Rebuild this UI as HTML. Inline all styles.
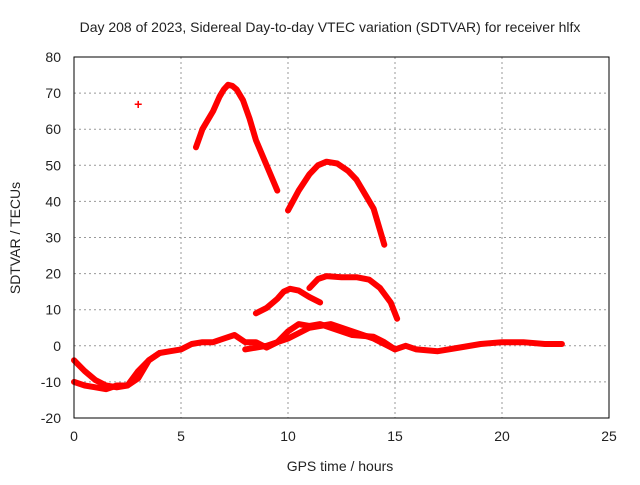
<!DOCTYPE html>
<html><head><meta charset="utf-8"><style>
body{margin:0;background:#fff;font-family:"Liberation Sans",sans-serif}
svg text{font-family:"Liberation Sans",sans-serif;font-size:14px;fill:#222}
</style></head><body>
<svg id="c" width="640" height="480">
<text x="330" y="32" text-anchor="middle">Day 208 of 2023, Sidereal Day-to-day VTEC variation (SDTVAR) for receiver hlfx</text>
<text x="340" y="471" text-anchor="middle">GPS time / hours</text>
<text transform="translate(20,238) rotate(-90)" text-anchor="middle">SDTVAR / TECUs</text>
<g id="grid"></g><g id="marks"></g>
<rect x="74" y="57" width="535" height="361" fill="none" stroke="#000"/>
</svg>
<script>
const xTicks=[0,5,10,15,20,25];
const yTicks=[-20,-10,0,10,20,30,40,50,60,70,80];
const arcAx=[5.7,6,6.5,6.8,7,7.2,7.4,7.6,7.9,8.2,8.5,9,9.5];
const arcAy=[55,60,65,69,71,72.3,72,71,68,63,57,50,43];
const arcBx=[10,10.5,11,11.4,11.8,12.3,12.8,13.2,13.6,14,14.3,14.5];
const arcBy=[37.5,43,47.5,50,51,50.5,48.5,46,42,38,32,28];
const arcCx=[8.5,9,9.5,9.8,10.1,10.5,11,11.5];
const arcCy=[9,10.5,13,15,15.8,15.3,13.5,12];
const arcDx=[11,11.4,11.8,12.5,13.2,13.8,14.3,14.8,15.1];
const arcDy=[16,18.5,19.3,19,19,18.3,16,12,7.5];
const arcEx=[0,0.5,1,1.5,2,2.5,3,3.5,4,4.5,5,5.5,6,6.5,7,7.5,8,8.5,9,9.5,10,10.5,11,11.5,12,12.5,13,14,14.5,15,15.5,16,17,18,19,20,21,22,22.8];
const arcEy=[-4,-7,-9.5,-11,-11.5,-11,-9,-4,-2,-1.5,-1,0.5,1,1,2,3,1,1,-0.5,1,4,6,5.5,6,5,4,3,2.5,1,-1,0,-1,-1.5,-0.5,0.5,1,1,0.5,0.5];
const arcFx=[0,0.5,1,1.5,2,2.5,3,3.5,4];
const arcFy=[-10,-11,-11.5,-12,-11,-11,-7,-4,-2];
const arcGx=[8,9,10,11,12,13,14,15];
const arcGy=[-1,0,2,5,6,4,2,-1];
const ptX=[3.0], ptY=[67];
const X=v=>74+v*535/25, Y=v=>418-(v+20)*361/100;
const NS="http://www.w3.org/2000/svg";
const svg=document.getElementById('c'),g=document.getElementById('grid'),m=document.getElementById('marks');
function mk(t,a,p){const e=document.createElementNS(NS,t);for(const k in a)e.setAttribute(k,a[k]);p.appendChild(e);return e;}
xTicks.forEach(t=>{
 if(t>0&&t<25){const l=mk('line',{x1:X(t),x2:X(t),y1:57,y2:418,stroke:'#999','stroke-dasharray':'2,3'},g);
 
 }
 const s=mk('text',{x:X(t),y:441,'text-anchor':'middle'},svg);s.textContent=t;
 
 
});
yTicks.forEach(t=>{
 if(t>-20&&t<80){const l=mk('line',{x1:74,x2:609,y1:Y(t),y2:Y(t),stroke:'#999','stroke-dasharray':'2,3'},g);
 
 }
 const s=mk('text',{x:61,y:Y(t)+5,'text-anchor':'end'},svg);s.textContent=t;
 
 
});
[[arcAx,arcAy],[arcBx,arcBy],[arcCx,arcCy],[arcDx,arcDy],[arcEx,arcEy],[arcFx,arcFy],[arcGx,arcGy]].forEach(([xs,ys])=>{
 const p=mk('polyline',{points:xs.map((x,i)=>X(x)+','+Y(ys[i])).join(' '),fill:'none',stroke:'#f00','stroke-width':6,'stroke-linejoin':'round','stroke-linecap':'round'},m);
 
 
});
ptX.forEach((x,i)=>{
 const t=mk('text',{x:X(x),y:Y(ptY[i])+5,'text-anchor':'middle',style:'fill:#f00;font-weight:bold'},m);t.textContent='+';
 
 
});
</script>
</body></html>
